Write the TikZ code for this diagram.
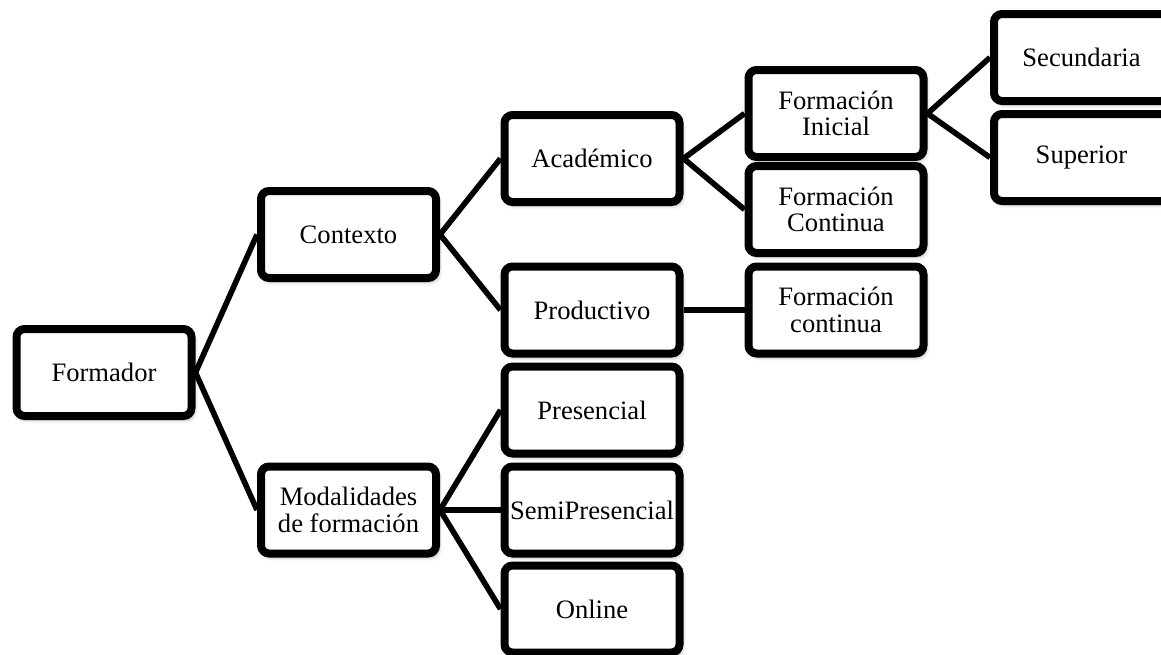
\documentclass[tikz,border=0pt]{standalone}
\usepackage{fontspec}
\setmainfont{Liberation Serif}
\usetikzlibrary{shadows.blur}
\begin{document}
\begin{tikzpicture}[x=0.5pt,y=-0.5pt,
  box/.style={draw=black, line width=4pt, rounded corners=4pt, fill=white,
    minimum width=87.5pt, minimum height=43.5pt, inner sep=0pt,
    align=center, font=\fontsize{13.3pt}{13.2pt}\selectfont,
    blur shadow={shadow xshift=1.2pt, shadow yshift=-1.8pt, shadow blur radius=2pt, shadow opacity=35}},
  link/.style={draw=black, line width=2.8pt}]
\useasboundingbox (0,0) rectangle (1161,654);

% tree nodes
\node[box] (formador) at (104,372.5) {Formador};
\node[box] (contexto) at (348.5,234.5) {Contexto};
\node[box] (modal) at (348.5,510) {Modalidades\\de formación};
\node[box] (acad) at (592,158.5) {Académico};
\node[box] (prod) at (592,310) {Productivo};
\node[box] (pres) at (592,410) {Presencial};
\node[box] (semi) at (592,510) {SemiPresencial};
\node[box] (online) at (592,609) {Online};
\node[box] (fini) at (836,113.5) {Formación\\Inicial};
\node[box] (fcont) at (836,209.5) {Formación\\Continua};
\node[box] (fprod) at (836,310) {Formación\\continua};
\node[box] (secu) at (1081.5,57.5) {Secundaria};
\node[box] (sup) at (1081.5,157.5) {Superior};

% connectors, ending on the box borders
\path[link] (formador.east) -- (contexto.west);
\path[link] (formador.east) -- (modal.west);
\path[link] (contexto.east) -- (acad.west);
\path[link] (contexto.east) -- (prod.west);
\path[link] (acad.east) -- (fini.west);
\path[link] (acad.east) -- (fcont.west);
\path[link] (prod.east) -- (fprod.west);
\path[link] (fini.east) -- (secu.west);
\path[link] (fini.east) -- (sup.west);
\path[link] (modal.east) -- (pres.west);
\path[link] (modal.east) -- (semi.west);
\path[link] (modal.east) -- (online.west);
\end{tikzpicture}
\end{document}
